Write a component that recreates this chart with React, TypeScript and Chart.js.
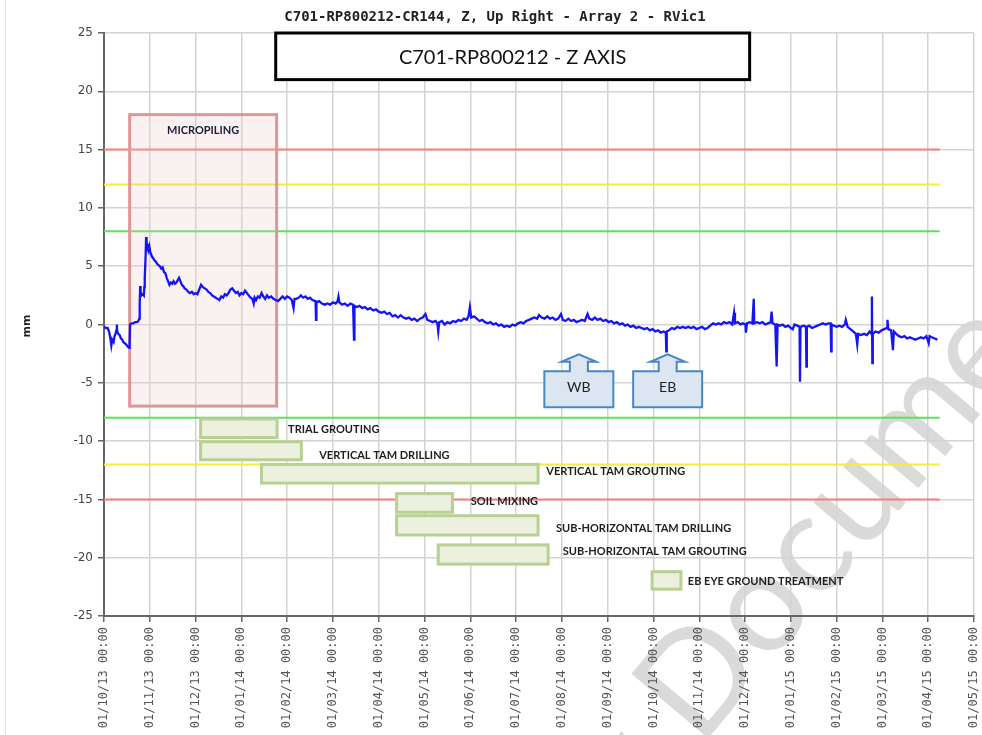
import React, { useEffect, useRef } from "react";
import { Chart, registerables } from "chart.js";

Chart.register(...registerables);

// ---------- DATA ----------
const monthLabels = [
  "01/10/13 00:00", "01/11/13 00:00", "01/12/13 00:00", "01/01/14 00:00",
  "01/02/14 00:00", "01/03/14 00:00", "01/04/14 00:00", "01/05/14 00:00",
  "01/06/14 00:00", "01/07/14 00:00", "01/08/14 00:00", "01/09/14 00:00",
  "01/10/14 00:00", "01/11/14 00:00", "01/12/14 00:00", "01/01/15 00:00",
  "01/02/15 00:00", "01/03/15 00:00", "01/04/15 00:00", "01/05/15 00:00",
];

// time in months since 01/10/13
const tMonths = [
  0.00, 0.04, 0.08, 0.11, 0.14, 0.16, 0.18, 0.21, 0.23, 0.25, 0.27, 0.28, 0.29, 0.31, 0.34, 0.37, 0.40, 0.42, 0.45, 0.48,
  0.50, 0.52, 0.55, 0.56, 0.57, 0.60, 0.64, 0.68, 0.72, 0.75, 0.77, 0.78, 0.79, 0.80, 0.82, 0.85, 0.87, 0.88, 0.89, 0.91,
  0.92, 0.93, 0.94, 0.95, 0.97, 0.99, 1.01, 1.03, 1.05, 1.07, 1.10, 1.13, 1.16, 1.19, 1.22, 1.25, 1.28, 1.31, 1.34, 1.37,
  1.40, 1.43, 1.46, 1.49, 1.52, 1.55, 1.58, 1.61, 1.64, 1.67, 1.70, 1.73, 1.76, 1.80, 1.84, 1.88, 1.92, 1.96, 2.00, 2.04,
  2.08, 2.12, 2.16, 2.20, 2.24, 2.28, 2.32, 2.36, 2.40, 2.44, 2.48, 2.52, 2.56, 2.60, 2.64, 2.68, 2.72, 2.76, 2.80, 2.84,
  2.88, 2.92, 2.96, 3.00, 3.04, 3.08, 3.12, 3.16, 3.20, 3.24, 3.27, 3.29, 3.32, 3.36, 3.40, 3.44, 3.48, 3.52, 3.56, 3.60,
  3.65, 3.70, 3.75, 3.80, 3.85, 3.90, 3.95, 4.00, 4.05, 4.10, 4.14, 4.16, 4.20, 4.25, 4.30, 4.35, 4.40, 4.45, 4.50, 4.55,
  4.62, 4.63, 4.64, 4.70, 4.76, 4.82, 4.88, 4.94, 5.00, 5.06, 5.10, 5.12, 5.14, 5.20, 5.26, 5.32, 5.38, 5.44, 5.46, 5.47,
  5.52, 5.58, 5.64, 5.70, 5.76, 5.82, 5.88, 5.94, 6.00, 6.06, 6.12, 6.18, 6.24, 6.30, 6.36, 6.42, 6.48, 6.54, 6.60, 6.66,
  6.72, 6.78, 6.84, 6.90, 6.96, 7.02, 7.06, 7.12, 7.18, 7.24, 7.28, 7.30, 7.32, 7.38, 7.44, 7.50, 7.56, 7.62, 7.68, 7.74,
  7.80, 7.86, 7.92, 7.96, 7.99, 8.02, 8.08, 8.14, 8.20, 8.26, 8.32, 8.38, 8.44, 8.50, 8.56, 8.62, 8.68, 8.74, 8.80, 8.86,
  8.92, 8.98, 9.04, 9.10, 9.16, 9.22, 9.28, 9.34, 9.40, 9.46, 9.50, 9.56, 9.62, 9.68, 9.74, 9.80, 9.86, 9.92, 9.98, 10.02,
  10.08, 10.14, 10.20, 10.26, 10.32, 10.38, 10.44, 10.50, 10.56, 10.60, 10.66, 10.72, 10.78, 10.84, 10.90, 10.96, 11.02, 11.08, 11.14, 11.20,
  11.26, 11.32, 11.38, 11.44, 11.50, 11.56, 11.62, 11.68, 11.74, 11.80, 11.86, 11.92, 11.98, 12.04, 12.10, 12.16, 12.22, 12.27, 12.28, 12.29,
  12.34, 12.40, 12.46, 12.52, 12.58, 12.64, 12.70, 12.76, 12.82, 12.88, 12.94, 13.00, 13.06, 13.12, 13.18, 13.24, 13.30, 13.36, 13.42, 13.48,
  13.54, 13.60, 13.66, 13.72, 13.76, 13.78, 13.84, 13.90, 13.95, 14.01, 14.02, 14.04, 14.10, 14.16, 14.19, 14.20, 14.26, 14.32, 14.38, 14.44,
  14.50, 14.56, 14.58, 14.60, 14.66, 14.69, 14.71, 14.76, 14.82, 14.88, 14.94, 15.00, 15.04, 15.08, 15.14, 15.19, 15.20, 15.21, 15.28, 15.33,
  15.34, 15.35, 15.40, 15.46, 15.52, 15.58, 15.64, 15.70, 15.76, 15.82, 15.87, 15.88, 15.89, 15.94, 16.00, 16.06, 16.12, 16.18, 16.20, 16.24,
  16.30, 16.36, 16.42, 16.45, 16.47, 16.53, 16.60, 16.66, 16.72, 16.76, 16.77, 16.78, 16.79, 16.85, 16.92, 16.98, 17.04, 17.10, 17.11, 17.13,
  17.19, 17.23, 17.25, 17.30, 17.36, 17.42, 17.48, 17.54, 17.60, 17.66, 17.72, 17.78, 17.84, 17.90, 17.96, 18.01, 18.03, 18.08, 18.14, 18.20,
];

// Z displacement (mm)
const zValues = [
  -0.2, -0.3, -0.3, -0.6, -1.2, -1.8, -1.3, -1.5, -1.0, -0.8, -0.5, 0.0, -0.6, -0.8, -0.9, -1.2, -1.3, -1.5, -1.6, -1.7,
  -1.8, -1.9, -2.0, -1.6, 0.0, 0.1, 0.1, 0.2, 0.2, 0.3, 0.5, 1.8, 3.3, 2.8, 2.5, 2.6, 2.5, 3.2, 4.0, 6.0,
  7.5, 7.2, 6.4, 6.9, 6.4, 6.7, 6.2, 6.0, 5.8, 5.7, 5.5, 5.4, 5.2, 5.1, 5.0, 4.8, 4.9, 4.5, 4.4, 4.0,
  3.7, 3.4, 3.6, 3.5, 3.7, 3.5, 3.6, 3.8, 4.0, 3.7, 3.4, 3.3, 3.1, 3.0, 2.8, 2.7, 2.8, 2.6, 2.7, 2.6,
  3.0, 3.4, 3.2, 3.1, 3.0, 2.8, 2.7, 2.5, 2.4, 2.3, 2.2, 2.1, 2.4, 2.3, 2.6, 2.5, 2.7, 3.0, 3.1, 2.9,
  2.7, 2.8, 2.5, 2.7, 2.6, 2.9, 2.7, 2.5, 2.3, 2.2, 1.8, 2.3, 2.1, 2.4, 2.3, 2.7, 2.4, 2.2, 2.5, 2.3,
  2.4, 2.2, 2.1, 2.0, 2.2, 2.4, 2.2, 2.4, 2.3, 2.1, 1.4, 2.2, 2.2, 2.3, 2.5, 2.3, 2.4, 2.2, 2.3, 2.1,
  2.0, 0.4, 1.9, 2.0, 1.8, 1.7, 1.8, 1.7, 1.9, 1.8, 2.0, 2.4, 1.9, 1.7, 1.8, 1.6, 1.8, 1.7, -1.3, 1.6,
  1.5, 1.6, 1.4, 1.5, 1.3, 1.4, 1.2, 1.3, 1.1, 1.0, 1.1, 0.9, 1.0, 0.7, 0.8, 0.6, 0.8, 0.6, 0.5, 0.6,
  0.4, 0.5, 0.3, 0.5, 0.6, 0.9, 0.4, 0.3, 0.2, 0.3, 0.1, -0.6, 0.2, 0.3, 0.0, 0.2, 0.1, 0.3, 0.2, 0.4,
  0.3, 0.5, 0.4, 0.7, 1.5, 0.6, 0.7, 0.5, 0.3, 0.4, 0.2, 0.1, 0.2, 0.0, 0.1, -0.1, 0.0, -0.2, -0.1, -0.2,
  0.0, -0.1, 0.1, 0.2, 0.1, 0.3, 0.4, 0.5, 0.6, 0.5, 0.8, 0.6, 0.5, 0.7, 0.5, 0.6, 0.4, 0.5, 0.9, 0.4,
  0.3, 0.5, 0.3, 0.4, 0.2, 0.3, 0.4, 0.3, 0.9, 0.5, 0.4, 0.6, 0.4, 0.5, 0.3, 0.4, 0.2, 0.3, 0.1, 0.2,
  0.0, 0.1, -0.1, 0.0, -0.2, -0.1, -0.3, -0.2, -0.3, -0.4, -0.3, -0.5, -0.4, -0.6, -0.5, -0.7, -0.6, -0.7, -2.3, -0.6,
  -0.5, -0.3, -0.4, -0.2, -0.3, -0.2, -0.3, -0.2, -0.3, -0.2, -0.4, -0.3, -0.2, -0.4, -0.3, -0.1, 0.1, 0.0, 0.1, 0.0,
  0.2, 0.1, 0.2, 0.0, 1.0, 0.1, 0.2, 0.0, 0.1, 0.0, -0.7, 0.1, 0.2, 0.1, 2.2, 0.1, 0.2, 0.1, 0.2, 0.0,
  0.1, 0.2, 1.1, 0.1, 0.0, -3.6, 0.0, -0.1, 0.0, -0.2, -0.1, -0.3, -0.4, 0.0, -0.1, -0.2, -4.9, -0.2, -0.1, -0.2,
  -3.6, -0.2, -0.1, -0.3, -0.2, -0.1, 0.0, 0.1, 0.0, 0.1, 0.1, -2.3, 0.0, -0.1, -0.2, -0.1, -0.2, 0.0, 0.4, -0.2,
  -0.4, -0.6, -0.8, -1.7, -0.8, -0.9, -0.8, -0.9, -0.6, -0.8, 2.4, -3.3, -0.8, -0.6, -0.7, -0.5, -0.4, -0.3, 0.4, -0.4,
  -0.5, -2.2, -0.6, -0.8, -1.0, -1.1, -1.0, -1.2, -1.1, -1.2, -1.3, -1.2, -1.1, -1.2, -1.0, -1.6, -1.0, -1.1, -1.2, -1.3,
];

// Trigger levels (mm)
const thresholdValues = [15, 12, 8, -8, -12, -15];
const thresholdColors = ["#ff7a7a", "#f2ee3a", "#5ee05e", "#5ee05e", "#f2ee3a", "#ff7a7a"];
const thresholdEndMonth = 18.25;

// Micropiling period
const micropilingStart = 0.56;
const micropilingEnd = 3.77;
const micropilingTop = 18;
const micropilingBottom = -7;
const micropilingLabel = "MICROPILING";

// Construction activities
const taskNames = [
  "TRIAL GROUTING",
  "VERTICAL TAM DRILLING",
  "VERTICAL TAM GROUTING",
  "SOIL MIXING",
  "SUB-HORIZONTAL TAM DRILLING",
  "SUB-HORIZONTAL TAM GROUTING",
  "EB EYE GROUND TREATMENT",
];
const taskStart = [2.11, 2.11, 3.44, 6.39, 6.39, 7.30, 11.97];
const taskEnd = [3.78, 4.31, 9.48, 7.61, 9.48, 9.70, 12.60];
const taskTop = [-8.1, -10.05, -12.0, -14.5, -16.4, -18.9, -21.2];
const taskBottom = [-9.7, -11.6, -13.6, -16.1, -18.05, -20.55, -22.7];
const taskLabelMonth = [4.02, 4.70, 9.66, 8.01, 9.87, 10.02, 12.75];
const taskLabelValue = [-9.0, -11.2, -12.6, -15.2, -17.5, -19.5, -22.0];

// Callouts
const calloutLabels = ["WB", "EB"];
const calloutMonth = [10.37, 12.31];
const calloutTipValue = -2.55;
const calloutHeadValue = -3.2;
const calloutBoxTop = -4.0;
const calloutBoxBottom = -7.1;

const chartTitle = "C701-RP800212-CR144, Z, Up Right - Array 2 - RVic1";
const boxTitle = "C701-RP800212 - Z AXIS";
const boxTitleFrom = 3.75;
const boxTitleTo = 14.1;
const boxTitleTop = 25;
const boxTitleBottom = 21;
const yAxisTitle = "mm";

// ---------- PLUGIN ----------
const overlayPlugin = {
  id: "overlay",
  beforeDraw(chart: any) {
    const ctx = chart.ctx;
    ctx.save();
    ctx.fillStyle = "#ffffff";
    ctx.fillRect(0, 0, chart.width, chart.height);
    ctx.strokeStyle = "#e6e6e6";
    ctx.lineWidth = 1;
    ctx.beginPath();
    ctx.moveTo(5.5, 0);
    ctx.lineTo(5.5, chart.height);
    ctx.stroke();
    // watermark
    ctx.translate(700, 748);
    ctx.rotate(-50 * Math.PI / 180);
    ctx.fillStyle = "rgb(218,218,218)";
    ctx.font = "140px Lato";
    ctx.textBaseline = "alphabetic";
    ctx.textAlign = "right";
    ctx.fillText("Copy ", 0, 0);
    ctx.textAlign = "left";
    ctx.fillText("Document", 0, 0);
    ctx.restore();
  },
  beforeDatasetsDraw(chart: any) {
    const ctx = chart.ctx;
    const xs = chart.scales.x;
    const ys = chart.scales.y;
    const X = (v: number) => xs.getPixelForValue(v);
    const Y = (v: number) => ys.getPixelForValue(v);
    ctx.save();
    thresholdValues.forEach((v, i) => {
      ctx.strokeStyle = thresholdColors[i];
      ctx.lineWidth = 2;
      ctx.beginPath();
      ctx.moveTo(chart.chartArea.left, Y(v));
      ctx.lineTo(X(thresholdEndMonth), Y(v));
      ctx.stroke();
    });
    const x0 = X(micropilingStart), x1 = X(micropilingEnd);
    const y0 = Y(micropilingTop), y1 = Y(micropilingBottom);
    ctx.fillStyle = "rgba(236,200,200,0.25)";
    ctx.fillRect(x0, y0, x1 - x0, y1 - y0);
    ctx.strokeStyle = "rgb(222,150,150)";
    ctx.lineWidth = 3;
    ctx.strokeRect(x0, y0, x1 - x0, y1 - y0);
    ctx.fillStyle = "#1c1c3a";
    ctx.font = "bold 11px Lato";
    ctx.textAlign = "center";
    ctx.textBaseline = "middle";
    ctx.fillText(micropilingLabel, (x0 + x1) / 2, Y(micropilingTop - 1.4));
    ctx.restore();
  },
  afterDatasetsDraw(chart: any) {
    const ctx = chart.ctx;
    const xs = chart.scales.x;
    const ys = chart.scales.y;
    const X = (v: number) => xs.getPixelForValue(v);
    const Y = (v: number) => ys.getPixelForValue(v);
    ctx.save();
    taskNames.forEach((name, i) => {
      const x0 = X(taskStart[i]), x1 = X(taskEnd[i]);
      const y0 = Y(taskTop[i]), y1 = Y(taskBottom[i]);
      ctx.fillStyle = "rgb(235,241,222)";
      ctx.fillRect(x0, y0, x1 - x0, y1 - y0);
      ctx.strokeStyle = "rgb(184,208,146)";
      ctx.lineWidth = 3;
      ctx.strokeRect(x0, y0, x1 - x0, y1 - y0);
      ctx.fillStyle = "#1e1e1e";
      ctx.font = "bold 11px Lato";
      ctx.textAlign = "left";
      ctx.textBaseline = "middle";
      ctx.fillText(name, X(taskLabelMonth[i]), Y(taskLabelValue[i]));
    });
    calloutLabels.forEach((lab, i) => {
      const cx = X(calloutMonth[i]);
      const bw = 34.5, sw = 9, hw = 17.5;
      const tip = Y(calloutTipValue), head = Y(calloutHeadValue);
      const top = Y(calloutBoxTop), bot = Y(calloutBoxBottom);
      ctx.beginPath();
      ctx.moveTo(cx - bw, bot);
      ctx.lineTo(cx - bw, top);
      ctx.lineTo(cx - sw, top);
      ctx.lineTo(cx - sw, head);
      ctx.lineTo(cx - hw, head);
      ctx.lineTo(cx, tip);
      ctx.lineTo(cx + hw, head);
      ctx.lineTo(cx + sw, head);
      ctx.lineTo(cx + sw, top);
      ctx.lineTo(cx + bw, top);
      ctx.lineTo(cx + bw, bot);
      ctx.closePath();
      ctx.fillStyle = "rgb(220,230,242)";
      ctx.fill();
      ctx.strokeStyle = "rgb(70,135,200)";
      ctx.lineWidth = 2;
      ctx.stroke();
      ctx.fillStyle = "#222";
      ctx.font = "14px Lato";
      ctx.textAlign = "center";
      ctx.textBaseline = "middle";
      ctx.fillText(lab, cx, (top + bot) / 2 - 2);
    });
    const bx0 = X(boxTitleFrom), bx1 = X(boxTitleTo);
    const by0 = Y(boxTitleTop), by1 = Y(boxTitleBottom);
    ctx.fillStyle = "#ffffff";
    ctx.fillRect(bx0, by0, bx1 - bx0, by1 - by0);
    ctx.strokeStyle = "#000";
    ctx.lineWidth = 3;
    ctx.strokeRect(bx0, by0, bx1 - bx0, by1 - by0);
    ctx.fillStyle = "#111";
    ctx.font = "20px Lato";
    ctx.textAlign = "center";
    ctx.textBaseline = "middle";
    ctx.fillText(boxTitle, (bx0 + bx1) / 2, (by0 + by1) / 2 + 1);
    ctx.restore();
  },
  afterDraw(chart: any) {
    const ctx = chart.ctx;
    ctx.save();
    ctx.fillStyle = "#222";
    ctx.font = "bold 14px 'DejaVu Sans Mono'";
    ctx.textAlign = "center";
    ctx.textBaseline = "middle";
    ctx.fillText(chartTitle, 495, 17);
    ctx.translate(27, 326);
    ctx.rotate(-Math.PI / 2);
    ctx.font = "bold 11px 'DejaVu Sans'";
    ctx.fillText(yAxisTitle, 0, 0);
    ctx.restore();
  },
};

export default function App() {
  const canvasRef = useRef<HTMLCanvasElement | null>(null);

  useEffect(() => {
    if (!canvasRef.current) return;
    const points = tMonths.map((t, i) => ({ x: t, y: zValues[i] }));
    const chart = new Chart(canvasRef.current, {
      type: "line",
      data: {
        datasets: [
          {
            label: "Z",
            data: points,
            borderColor: "rgb(20,20,245)",
            borderWidth: 2.3,
            pointRadius: 0,
            tension: 0,
            fill: false,
          },
        ],
      },
      options: {
        responsive: false,
        animation: false,
        devicePixelRatio: 1,
        layout: { padding: { top: 33, right: 8, left: 0, bottom: 0 } },
        plugins: {
          legend: { display: false },
          title: { display: false },
          tooltip: { enabled: false },
        },
        scales: {
          x: {
            type: "linear",
            min: 0,
            max: 19,
            afterFit: (s: any) => {
              s.height = 119;
              s.paddingLeft = 0;
              s.paddingRight = 0;
            },
            afterBuildTicks: (s: any) => {
              s.ticks = monthLabels.map((_, i) => ({ value: i }));
            },
            ticks: {
              stepSize: 1,
              autoSkip: false,
              maxRotation: 90,
              minRotation: 90,
              padding: 5,
              color: "#555",
              font: { family: "'DejaVu Sans Mono'", size: 12 },
              callback: (v: any) => monthLabels[Math.round(Number(v))] ?? "",
            },
            grid: {
              color: "rgb(212,212,212)",
              lineWidth: 1.5,
              tickColor: "#666",
              tickLength: 6,
            },
            border: { color: "#666", width: 2 },
          },
          y: {
            type: "linear",
            min: -25,
            max: 25,
            afterFit: (s: any) => {
              s.width = 104;
              s.paddingTop = 0;
              s.paddingBottom = 0;
            },
            ticks: {
              stepSize: 5,
              padding: 5,
              color: "#444",
              font: { family: "'DejaVu Sans'", size: 12 },
            },
            grid: {
              color: "rgb(212,212,212)",
              lineWidth: 1.5,
              tickColor: "#666",
              tickLength: 6,
            },
            border: { color: "#666", width: 2 },
          },
        },
      },
      plugins: [overlayPlugin],
    });
    return () => chart.destroy();
  }, []);

  return (
    <div style={{ position: "fixed", left: 0, top: 0, width: 982, height: 735, background: "#fff" }}>
      <canvas ref={canvasRef} width={982} height={735} style={{ display: "block", width: 982, height: 735 }} />
    </div>
  );
}
